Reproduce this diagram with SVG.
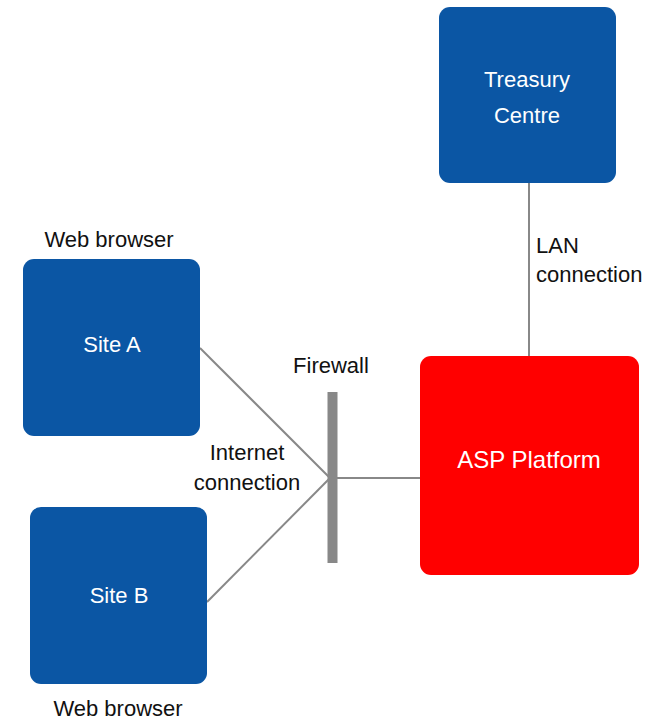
<svg xmlns="http://www.w3.org/2000/svg" width="666" height="720" viewBox="0 0 666 720">
<style>
.box{fill:#0B56A4}
.red{fill:#FF0000}
.in{font-family:"Liberation Sans",Arial,sans-serif;font-size:22px;fill:#FFFFFF;text-anchor:middle}
.lbl{font-family:"Liberation Sans",Arial,sans-serif;font-size:22px;fill:#111111}
.c{text-anchor:middle}
.ln{stroke:#888888;stroke-width:2;fill:none}
</style>
<rect width="666" height="720" fill="#FFFFFF"/>
<g id="connectors">
<line class="ln" x1="529" y1="183" x2="529" y2="356"/>
<line class="ln" x1="200" y1="348" x2="330" y2="478"/>
<line class="ln" x1="207" y1="602" x2="330" y2="478"/>
<line class="ln" x1="330" y1="478" x2="420" y2="478"/>
<text class="lbl" x="536" y="253">LAN</text>
<text class="lbl" x="536" y="282">connection</text>
<text class="lbl c" x="247" y="460">Internet</text>
<text class="lbl c" x="247" y="490">connection</text>
</g>
<g id="firewall">
<rect x="327.5" y="392" width="10" height="171" fill="#888888"/>
<text class="lbl c" x="331" y="373">Firewall</text>
</g>
<g id="treasury">
<rect class="box" x="439" y="7" width="177" height="176" rx="11"/>
<text class="in" x="527" y="87">Treasury</text>
<text class="in" x="527" y="123">Centre</text>
</g>
<g id="siteA">
<rect class="box" x="23" y="259" width="177" height="177" rx="11"/>
<text class="in" x="112" y="352">Site A</text>
<text class="lbl c" x="109" y="247">Web browser</text>
</g>
<g id="siteB">
<rect class="box" x="30" y="507" width="177" height="177" rx="11"/>
<text class="in" x="119" y="603">Site B</text>
<text class="lbl c" x="118" y="716">Web browser</text>
</g>
<g id="asp">
<rect class="red" x="420" y="356" width="219" height="219" rx="11"/>
<text class="in" x="529" y="468" style="font-size:24px">ASP Platform</text>
</g>
</svg>
